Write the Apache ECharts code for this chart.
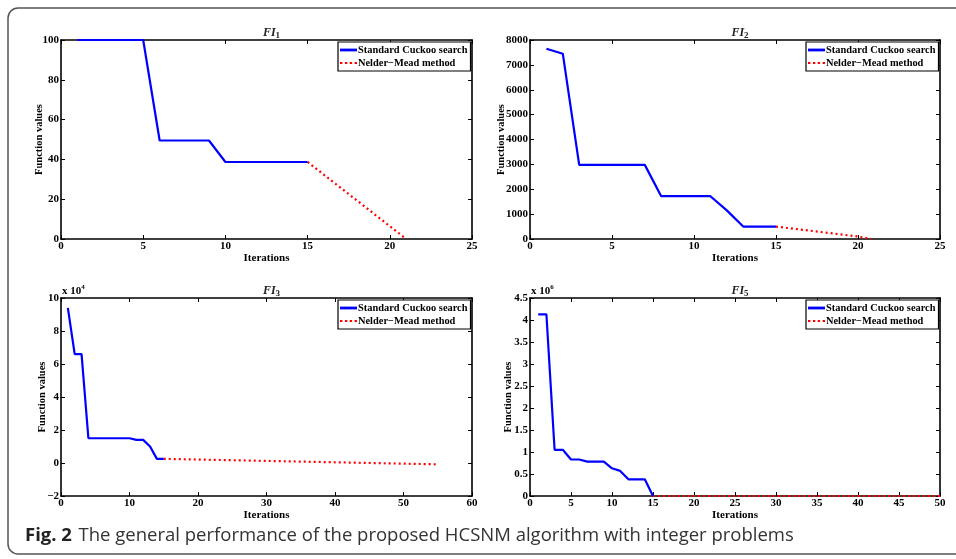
<!DOCTYPE html>
<html>
<head>
<meta charset="utf-8">
<script src="https://cdn.jsdelivr.net/npm/echarts@6/dist/echarts.min.js"></script>
<style>
html,body{margin:0;padding:0;background:#fff;}
#c{width:956px;height:559px;}
</style>
</head>
<body>
<div id="c"></div>
<script>
// ---- data ----
const fi1Iter = [1,2,3,4,5,6,7,8,9,10,11,12,13,14,15];
const fi1Cs   = [100,100,100,100,100,49.5,49.5,49.5,49.5,38.7,38.7,38.7,38.7,38.7,38.7];
const fi1NmIter = [15,21];
const fi1Nm     = [38.7,0];

const fi2Iter = [1,2,3,4,5,6,7,8,9,10,11,12,13,14,15];
const fi2Cs   = [7650,7450,2980,2980,2980,2980,2980,1720,1720,1720,1720,1150,500,500,500];
const fi2NmIter = [15,20,20.8];
const fi2Nm     = [500,100,0];

const fi3Iter = [1,2,3,4,5,6,7,8,9,10,11,12,13,14,15];
const fi3Cs   = [94000,66000,66000,15000,15000,15000,15000,15000,15000,15000,14000,14000,10000,2500,2500];
const fi3NmIter = [15,55];
const fi3Nm     = [2500,-800];

const fi5Iter = [1,2,3,4,5,6,7,8,9,10,11,12,13,14,15];
const fi5Cs   = [4130000,4130000,1050000,1050000,830000,830000,780000,780000,780000,630000,570000,380000,380000,380000,0];
const fi5NmIter = [15,50];
const fi5Nm     = [0,0];

const titles = ['FI|1','FI|2','FI|3','FI|5'];
const xTicks = [{min:0,max:25,interval:5},{min:0,max:25,interval:5},{min:0,max:60,interval:10},{min:0,max:50,interval:5}];
const yTicks = [{min:0,max:100,interval:20,div:1},{min:0,max:8000,interval:1000,div:1},{min:-20000,max:100000,interval:20000,div:10000},{min:0,max:4500000,interval:500000,div:1000000}];
const csName = 'Standard Cuckoo search';
const nmName = 'Nelder\u2212Mead method';

// ---- layout ----
const grids = [
  {left:61, top:40, width:411, height:199, yGap:16},
  {left:530, top:40, width:410, height:199, yGap:23},
  {left:61, top:298, width:411, height:198, yGap:13},
  {left:530, top:298, width:410, height:198, yGap:16}
];
const serif = '"Liberation Serif","Times New Roman",serif';
const pairs = (xs, ys) => xs.map((x,i)=>[x,ys[i]]);
const csData = [pairs(fi1Iter,fi1Cs),pairs(fi2Iter,fi2Cs),pairs(fi3Iter,fi3Cs),pairs(fi5Iter,fi5Cs)];
const nmData = [pairs(fi1NmIter,fi1Nm),pairs(fi2NmIter,fi2Nm),pairs(fi3NmIter,fi3Nm),pairs(fi5NmIter,fi5Nm)];

const labelStyle = {fontFamily:serif,fontWeight:'bold',fontSize:11,color:'#000'};
const lineStyleAxis = {color:'#000',width:1.6};

const option = {
  animation:false,
  backgroundColor:'#fff',
  grid:[], xAxis:[], yAxis:[], series:[], legend:[], title:[],
  graphic:[]
};

grids.forEach((g,i)=>{
  option.grid.push({left:g.left, top:g.top, width:g.width, height:g.height, containLabel:false});
  const xt = xTicks[i], yt = yTicks[i];
  option.xAxis.push({
    type:'value', gridIndex:i, min:xt.min, max:xt.max, interval:xt.interval,
    position:'bottom',
    name:'Iterations', nameLocation:'middle', nameGap:13,
    nameTextStyle:{fontFamily:serif,fontWeight:'bold',fontSize:11,color:'#000'},
    axisLine:{show:true,onZero:false,lineStyle:lineStyleAxis},
    axisTick:{show:true,inside:true,length:4,lineStyle:{color:'#000',width:1}},
    axisLabel:Object.assign({margin:2},labelStyle),
    splitLine:{show:false}
  });
  option.xAxis.push({
    type:'value', gridIndex:i, min:xt.min, max:xt.max, interval:xt.interval,
    position:'top',
    axisLine:{show:true,onZero:false,lineStyle:lineStyleAxis},
    axisTick:{show:true,inside:true,length:4,lineStyle:{color:'#000',width:1}},
    axisLabel:{show:false}, splitLine:{show:false}
  });
  option.yAxis.push({
    type:'value', gridIndex:i, min:yt.min, max:yt.max, interval:yt.interval,
    position:'left',
    name:'Function values', nameLocation:'middle', nameGap:g.yGap, nameMoveOverlap:false,
    nameTextStyle:{fontFamily:serif,fontWeight:'bold',fontSize:10.5,color:'#000'},
    axisLine:{show:true,onZero:false,lineStyle:lineStyleAxis},
    axisTick:{show:true,inside:true,length:4,lineStyle:{color:'#000',width:1}},
    axisLabel:Object.assign({margin:2,formatter:v=>{const r=Math.round(v/yt.div*100)/100;return (r<0?'\u2212':'')+Math.abs(r);}},labelStyle),
    splitLine:{show:false}
  });
  option.yAxis.push({
    type:'value', gridIndex:i, min:yt.min, max:yt.max, interval:yt.interval,
    position:'right',
    axisLine:{show:true,onZero:false,lineStyle:lineStyleAxis},
    axisTick:{show:true,inside:true,length:4,lineStyle:{color:'#000',width:1}},
    axisLabel:{show:false}, splitLine:{show:false}
  });
  option.series.push({
    name:csName, type:'line', xAxisIndex:2*i, yAxisIndex:2*i, data:csData[i],
    showSymbol:false, symbol:'none', z:3,
    lineStyle:{color:'#0000ff',width:2.2}, itemStyle:{color:'#0000ff'}
  });
  option.series.push({
    name:nmName, type:'line', xAxisIndex:2*i, yAxisIndex:2*i, data:nmData[i],
    showSymbol:false, symbol:'none', z:2,
    lineStyle:{color:'#ff0000',width:2.2,type:[2,3]}, itemStyle:{color:'#ff0000'}
  });
  option.legend.push({
    data:[
      {name:csName, icon:'rect'},
      {name:nmName, icon:'path://M0,0h2.4v2h-2.4zM4.9,0h2.4v2h-2.4zM9.7,0h2.4v2h-2.4zM14.6,0h2.4v2h-2.4z'}
    ],
    orient:'vertical',
    left:g.left+g.width-134, top:g.top+2,
    backgroundColor:'#fff', borderColor:'#000', borderWidth:1.2, borderRadius:0,
    padding:[2,3,2,2], itemGap:1, itemWidth:17, itemHeight:2.8,
    textStyle:{fontFamily:serif,fontWeight:'bold',fontSize:10.4,color:'#000',padding:[0,0,0,-4],lineHeight:12},
    selectedMode:false, z:10
  });
  const t = titles[i].split('|');
  option.title.push({
    text:'{i|'+t[0]+'}{s|'+t[1]+'}',
    left:g.left+g.width/2, top:g.top-19, textAlign:'center',
    textStyle:{rich:{i:{fontFamily:serif,fontStyle:'italic',fontSize:12,color:'#222'},
                     s:{fontFamily:serif,fontSize:9,color:'#222',verticalAlign:'bottom',padding:[5,0,0,0]}}}
  });
});

// multiplier labels
option.graphic.push({type:'text', left:62, top:284, style:{text:'{a|x 10}{b|4}', rich:{a:{fontFamily:serif,fontWeight:'bold',fontSize:11,fill:'#000'},b:{fontFamily:serif,fontWeight:'bold',fontSize:7,fill:'#000',verticalAlign:'top',padding:[0,0,7,0]}}}});
option.graphic.push({type:'text', left:531, top:284, style:{text:'{a|x 10}{b|6}', rich:{a:{fontFamily:serif,fontWeight:'bold',fontSize:11,fill:'#000'},b:{fontFamily:serif,fontWeight:'bold',fontSize:7,fill:'#000',verticalAlign:'top',padding:[0,0,7,0]}}}});
// frame
option.graphic.push({type:'rect', shape:{x:8,y:8,width:1000,height:546,r:10}, style:{fill:null,stroke:'#555',lineWidth:1.5}, silent:true, z:-1});
// caption
option.graphic.push({type:'text', left:25, top:526, style:{
  text:'{b|Fig. 2}  {n|The general performance of the proposed HCSNM algorithm with integer problems}',
  rich:{b:{fontFamily:'"Open Sans",sans-serif',fontWeight:'bold',fontSize:18.5,fill:'#222'},
        n:{fontFamily:'"Open Sans",sans-serif',fontSize:18.5,fill:'#333'}}}});

const chart = echarts.init(document.getElementById('c'),null,{renderer:'canvas'});
chart.setOption(option);
</script>
</body>
</html>
